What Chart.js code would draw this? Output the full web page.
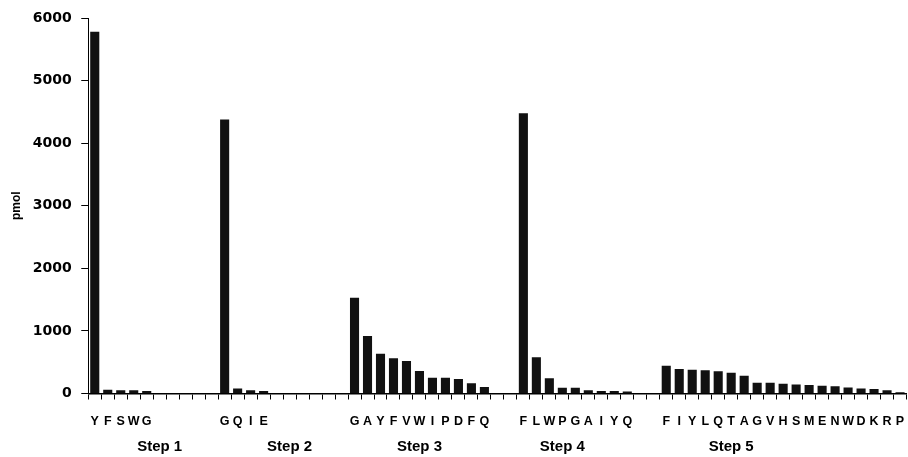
<!DOCTYPE html>
<html>
<head>
<meta charset="utf-8">
<script src="https://cdn.jsdelivr.net/npm/chart.js@4/dist/chart.umd.min.js"></script>
<style>
  html, body { margin: 0; padding: 0; background: #fff; }
  #wrap { width: 908px; height: 457px; position: relative; }
</style>
</head>
<body>
<div id="wrap"><canvas id="chart"></canvas></div>
<script>
// residues per step and their amounts (pmol)
const step1Letters = ['Y', 'F', 'S', 'W', 'G'];
const step1Values = [5780, 60, 50, 50, 40];
const step2Letters = ['G', 'Q', 'I', 'E'];
const step2Values = [4380, 80, 50, 40];
const step3Letters = ['G', 'A', 'Y', 'F', 'V', 'W', 'I', 'P', 'D', 'F', 'Q'];
const step3Values = [1530, 920, 635, 565, 520, 360, 250, 250, 230, 165, 105];
const step4Letters = ['F', 'L', 'W', 'P', 'G', 'A', 'I', 'Y', 'Q'];
const step4Values = [4480, 580, 245, 90, 90, 50, 40, 40, 30];
const step5Letters = ['F', 'I', 'Y', 'L', 'Q', 'T', 'A', 'G', 'V', 'H', 'S', 'M', 'E', 'N', 'W', 'D', 'K', 'R', 'P'];
const step5Values = [445, 390, 380, 370, 355, 330, 285, 170, 170, 155, 145, 135, 125, 115, 95, 80, 70, 50, 20];
const stepNames = ['Step 1', 'Step 2', 'Step 3', 'Step 4', 'Step 5'];
const stepGaps = [5, 6, 2, 2, 0];          // empty slots after each step
const stepLabelSlots = [5, 15, 25, 36, 49]; // slot under which each step name sits
const yTicks = [0, 1000, 2000, 3000, 4000, 5000, 6000];

const allLetters = [step1Letters, step2Letters, step3Letters, step4Letters, step5Letters];
const allValues = [step1Values, step2Values, step3Values, step4Values, step5Values];

// build the flat slot list
var labels = [];
var values = [];
allLetters.forEach(function (letters, i) {
  letters.forEach(function (l, j) {
    labels.push(l);
    values.push(allValues[i][j]);
  });
  for (var k = 0; k < stepGaps[i]; k++) {
    labels.push('');
    values.push(null);
  }
});

var font = 'Liberation Sans, Arial, Helvetica, sans-serif';

// step names under their group, placed with the x scale
var stepNamesPlugin = {
  id: 'stepNames',
  afterDraw: function (chart) {
    var ctx = chart.ctx, x = chart.scales.x;
    ctx.save();
    ctx.fillStyle = '#000';
    ctx.font = 'bold 15px ' + font;
    ctx.textAlign = 'center';
    ctx.textBaseline = 'middle';
    stepLabelSlots.forEach(function (s, i) {
      ctx.fillText(stepNames[i], x.getPixelForValue(s), chart.chartArea.bottom + 53.7);
    });
    ctx.restore();
  }
};

new Chart(document.getElementById('chart'), {
  type: 'bar',
  data: {
    labels: labels,
    datasets: [{
      data: values,
      backgroundColor: '#111111',
      borderWidth: 0,
      barPercentage: 0.7,
      categoryPercentage: 1.0
    }]
  },
  plugins: [stepNamesPlugin],
  options: {
    responsive: true,
    maintainAspectRatio: false,
    devicePixelRatio: 1,
    animation: false,
    layout: { padding: { top: 9, right: 0, left: 9, bottom: 13.9 } },
    plugins: {
      legend: { display: false },
      tooltip: { enabled: false }
    },
    scales: {
      x: {
        type: 'category',
        offset: true,
        grid: {
          display: true,
          drawOnChartArea: false,
          drawTicks: true,
          tickLength: 6,
          color: '#000',
          offset: true
        },
        border: { display: true, color: '#000', width: 1.5 },
        ticks: {
          autoSkip: false,
          maxRotation: 0,
          minRotation: 0,
          padding: 3.8,
          color: '#000',
          // tall line box pushes the letters down without widening the side padding
          font: { family: font, size: 12.5, weight: 'bold', lineHeight: 36 / 12.5 }
        }
      },
      y: {
        min: 0,
        max: 6000,
        afterBuildTicks: function (axis) {
          axis.ticks = yTicks.map(function (v) { return { value: v }; });
        },
        grid: {
          display: true,
          drawOnChartArea: false,
          drawTicks: true,
          tickLength: 7,
          color: '#000'
        },
        border: { display: true, color: '#000', width: 1 },
        ticks: {
          padding: 9.6,
          color: '#000',
          font: { family: 'DejaVu Sans', size: 14, weight: 'bold' },
          callback: function (v) { return String(v); }
        },
        title: {
          display: true,
          text: 'pmol',
          color: '#000',
          padding: { top: 0, bottom: -0.3 },
          font: { family: font, size: 12, weight: 'bold' }
        }
      }
    }
  }
});
</script>
</body>
</html>
